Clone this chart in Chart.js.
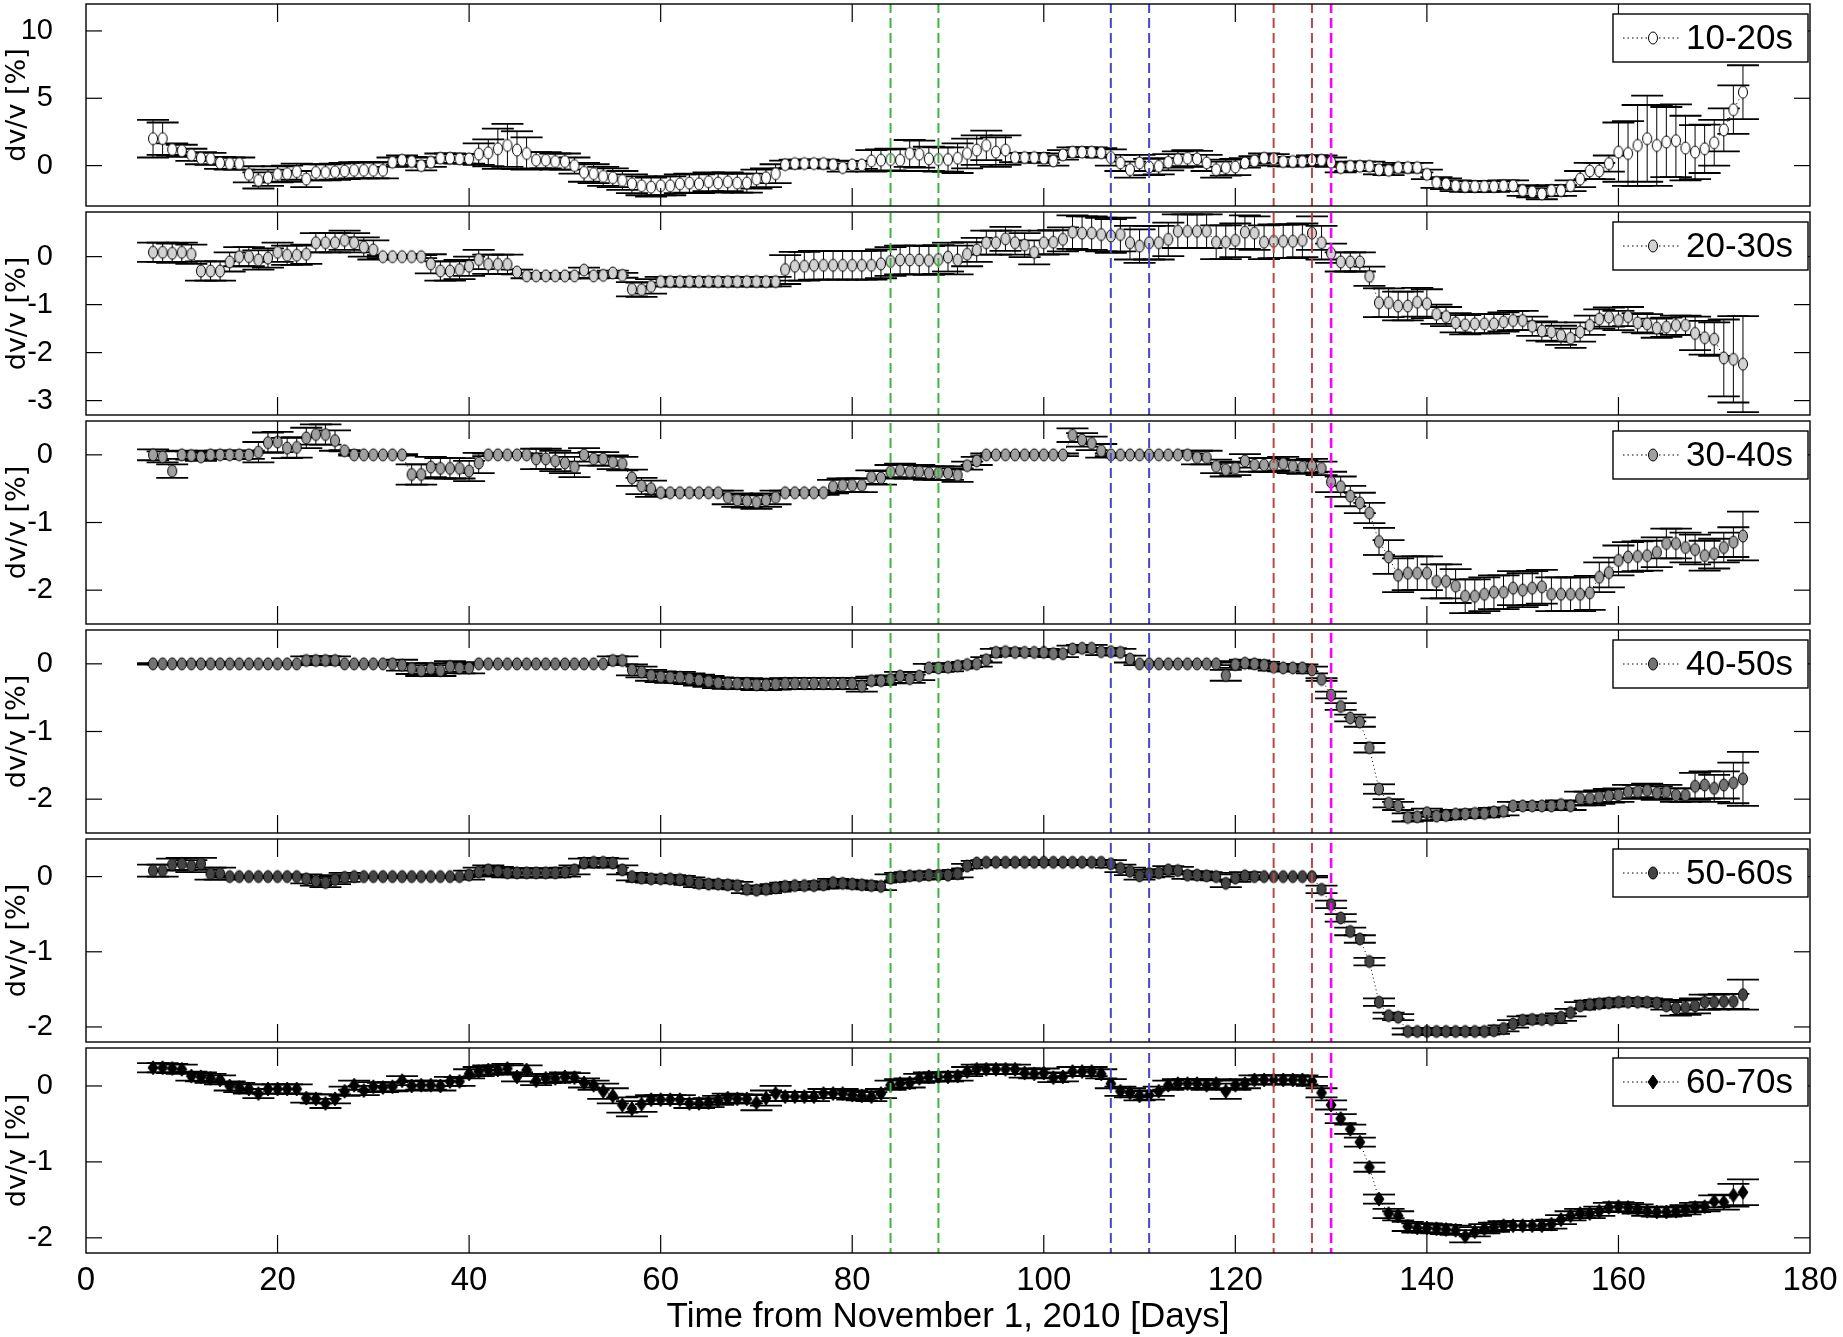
<!DOCTYPE html>
<html>
<head>
<meta charset="utf-8">
<script src="https://cdn.jsdelivr.net/npm/chart.js@4.4.1/dist/chart.umd.min.js"></script>
<style>
  html, body { margin: 0; padding: 0; background: #fff; }
  #wrap { position: relative; width: 1843px; height: 1337px; overflow: hidden; background: #fff; }
  #wrap canvas { position: absolute; left: 0; }
</style>
</head>
<body>
<div id="wrap"></div>
<script>
// ---- data ----
const days = [7,8,9,10,11,12,13,14,15,16,
  17,18,19,20,21,22,23,24,25,26,
  27,28,29,30,31,32,33,34,35,36,
  37,38,39,40,41,42,43,44,45,46,
  47,48,49,50,51,52,53,54,55,56,
  57,58,59,60,61,62,63,64,65,66,
  67,68,69,70,71,72,73,74,75,76,
  77,78,79,80,81,82,83,84,85,86,
  87,88,89,90,91,92,93,94,95,96,
  97,98,99,100,101,102,103,104,105,106,
  107,108,109,110,111,112,113,114,115,116,
  117,118,119,120,121,122,123,124,125,126,
  127,128,129,130,131,132,133,134,135,136,
  137,138,139,140,141,142,143,144,145,146,
  147,148,149,150,151,152,153,154,155,156,
  157,158,159,160,161,162,163,164,165,166,
  167,168,169,170,171,172,173];

const dv1020 = [2.0,2.0,1.2,1.1,0.8,0.55,0.5,0.2,0.15,0.15,
  -0.65,-1.1,-0.9,-0.65,-0.6,-0.45,-1.0,-0.5,-0.5,-0.45,
  -0.4,-0.35,-0.35,-0.35,-0.35,0.25,0.4,0.3,0.0,0.25,
  0.55,0.55,0.5,0.5,0.85,0.95,1.25,1.5,1.15,0.9,
  0.4,0.4,0.3,0.3,0.0,-0.5,-0.6,-0.8,-0.9,-1.1,
  -1.35,-1.5,-1.6,-1.5,-1.5,-1.35,-1.3,-1.35,-1.2,-1.3,
  -1.2,-1.3,-1.3,-1.0,-0.9,-0.6,0.07,0.15,0.15,0.15,
  0.15,0.07,-0.15,0.05,0.05,0.35,0.4,0.45,0.4,0.9,
  0.85,0.5,0.45,0.45,0.55,0.9,1.15,1.5,1.0,1.15,
  0.6,0.6,0.6,0.55,0.35,0.8,1.0,1.0,1.0,0.95,
  0.6,0.2,-0.3,0.2,-0.1,-0.05,0.25,0.45,0.55,0.5,
  0.2,-0.3,-0.15,-0.1,0.2,0.35,0.55,0.5,0.3,0.3,
  0.3,0.4,0.4,0.25,-0.15,-0.05,-0.05,-0.05,-0.3,-0.35,
  -0.15,-0.15,-0.15,-0.65,-1.25,-1.35,-1.5,-1.55,-1.55,-1.55,
  -1.55,-1.5,-1.5,-1.85,-1.95,-2.1,-1.85,-1.85,-1.5,-1.0,
  -0.4,-0.4,0.15,1.0,0.9,1.5,2.0,1.5,1.75,1.85,
  1.3,1.0,1.25,1.7,2.65,4.15,5.45];
const err1020 = [1.4,1.2,0.45,0.45,0.45,0.45,0.45,0.45,0.45,0.45,
  0.6,0.6,0.6,0.6,0.6,0.6,0.6,0.6,0.6,0.6,
  0.6,0.6,0.6,0.6,0.6,0.35,0.35,0.35,0.35,0.35,
  0.35,0.35,0.35,0.35,0.8,1.0,1.5,1.6,1.4,1.2,
  0.6,0.6,0.6,0.6,0.6,0.7,0.7,0.7,0.7,0.7,
  0.7,0.7,0.7,0.7,0.7,0.7,0.7,0.7,0.7,0.7,
  0.7,0.7,0.7,0.7,0.7,0.7,0.3,0.3,0.3,0.3,
  0.3,0.3,0.3,0.3,0.3,0.8,0.8,0.8,0.8,1.0,
  1.0,0.9,0.9,0.9,1.1,1.1,1.1,1.1,1.1,1.1,
  0.35,0.35,0.35,0.35,0.35,0.35,0.35,0.35,0.35,0.35,
  0.6,0.6,0.6,0.6,0.6,0.6,0.6,0.6,0.6,0.6,
  0.6,0.6,0.6,0.6,0.35,0.35,0.35,0.35,0.35,0.35,
  0.35,0.35,0.35,0.35,0.35,0.35,0.35,0.35,0.35,0.35,
  0.35,0.35,0.35,0.35,0.4,0.4,0.4,0.4,0.4,0.4,
  0.4,0.4,0.4,0.4,0.4,0.4,0.4,0.4,0.4,0.6,
  0.6,0.6,0.6,2.2,2.4,3.0,3.2,3.0,2.6,2.7,
  2.4,2.0,1.8,1.7,1.6,1.8,2.0];

const dv2030 = [0.09,0.09,0.07,0.09,0.05,-0.30,-0.30,-0.30,-0.11,0.0,
  0.0,-0.07,-0.03,0.09,0.03,0.03,0.05,0.29,0.29,0.29,
  0.34,0.29,0.2,0.14,0,0,0,0,0,-0.15,
  -0.30,-0.30,-0.27,-0.2,-0.06,-0.16,-0.16,-0.16,-0.32,-0.40,
  -0.40,-0.40,-0.40,-0.40,-0.40,-0.28,-0.40,-0.39,-0.34,-0.39,
  -0.68,-0.69,-0.62,-0.52,-0.52,-0.52,-0.52,-0.52,-0.52,-0.52,
  -0.52,-0.52,-0.52,-0.52,-0.52,-0.52,-0.27,-0.2,-0.2,-0.18,
  -0.18,-0.18,-0.18,-0.18,-0.18,-0.18,-0.15,-0.1,-0.07,-0.07,
  -0.07,-0.08,-0.06,-0.01,-0.07,0.05,0.14,0.29,0.29,0.37,
  0.29,0.24,0.09,0.29,0.30,0.36,0.51,0.49,0.49,0.46,
  0.43,0.46,0.29,0.22,0.29,0.29,0.36,0.53,0.53,0.53,
  0.53,0.30,0.30,0.34,0.51,0.49,0.30,0.32,0.32,0.32,
  0.34,0.49,0.29,0.07,-0.11,-0.11,-0.11,-0.41,-0.96,-0.96,
  -1.03,-1.03,-0.95,-0.98,-1.2,-1.25,-1.38,-1.42,-1.4,-1.4,
  -1.4,-1.36,-1.33,-1.33,-1.45,-1.55,-1.57,-1.64,-1.70,-1.57,
  -1.43,-1.30,-1.26,-1.33,-1.25,-1.38,-1.4,-1.49,-1.47,-1.43,
  -1.43,-1.6,-1.69,-1.72,-2.11,-2.14,-2.24];
const err2030 = [0.2,0.2,0.2,0.2,0.2,0.2,0.2,0.2,0.2,0.2,
  0.2,0.2,0.2,0.2,0.2,0.2,0.2,0.2,0.2,0.2,
  0.2,0.2,0.2,0.2,0.03,0.03,0.03,0.03,0.03,0.2,
  0.2,0.2,0.2,0.2,0.2,0.2,0.2,0.2,0.05,0.05,
  0.05,0.05,0.05,0.05,0.05,0.05,0.05,0.05,0.05,0.05,
  0.15,0.15,0.15,0.1,0.1,0.1,0.1,0.1,0.1,0.1,
  0.1,0.1,0.1,0.1,0.1,0.1,0.3,0.3,0.3,0.3,
  0.3,0.3,0.3,0.3,0.3,0.3,0.3,0.3,0.3,0.3,
  0.3,0.3,0.3,0.3,0.3,0.25,0.25,0.25,0.25,0.25,
  0.25,0.25,0.25,0.25,0.25,0.25,0.35,0.35,0.35,0.35,
  0.35,0.35,0.35,0.35,0.35,0.35,0.35,0.35,0.35,0.35,
  0.35,0.35,0.35,0.35,0.35,0.35,0.35,0.35,0.35,0.35,
  0.35,0.35,0.35,0.2,0.2,0.2,0.2,0.2,0.3,0.3,
  0.3,0.3,0.3,0.3,0.2,0.2,0.2,0.2,0.2,0.2,
  0.2,0.2,0.2,0.2,0.2,0.2,0.2,0.2,0.2,0.2,
  0.2,0.2,0.2,0.2,0.2,0.2,0.2,0.2,0.2,0.2,
  0.2,0.35,0.35,0.35,0.8,0.9,1.0];

const dv3040 = [0,-0.03,-0.24,0,-0.01,-0.03,0,0,0,0,
  0,0.04,0.18,0.19,0.1,0.11,0.25,0.3,0.3,0.21,
  0.06,0,0,0,0,0,0,-0.29,-0.29,-0.18,
  -0.2,-0.2,-0.2,-0.24,-0.12,0,0,0,0,0,
  -0.06,-0.06,-0.09,-0.12,-0.18,0,-0.06,-0.06,-0.11,-0.13,
  -0.34,-0.46,-0.5,-0.56,-0.56,-0.56,-0.56,-0.56,-0.56,-0.56,
  -0.63,-0.67,-0.68,-0.7,-0.67,-0.63,-0.56,-0.56,-0.56,-0.56,
  -0.56,-0.47,-0.45,-0.45,-0.45,-0.33,-0.34,-0.25,-0.23,-0.25,
  -0.25,-0.27,-0.27,-0.27,-0.3,-0.16,-0.09,0,0,0,
  0,0,0,0,0,0,0.29,0.22,0.17,0.06,
  0,0,0,0,0,0,0,0,0,-0.04,
  -0.04,-0.17,-0.22,-0.2,-0.09,-0.15,-0.15,-0.15,-0.13,-0.17,
  -0.18,-0.16,-0.2,-0.4,-0.47,-0.61,-0.71,-0.86,-1.28,-1.51,
  -1.78,-1.75,-1.75,-1.75,-1.87,-1.87,-1.94,-2.09,-2.09,-2.06,
  -2.03,-2.03,-1.97,-2.0,-1.97,-1.95,-2.06,-2.06,-2.06,-2.06,
  -2.04,-1.81,-1.74,-1.56,-1.51,-1.5,-1.49,-1.44,-1.31,-1.31,
  -1.37,-1.4,-1.49,-1.46,-1.37,-1.29,-1.2];
const err3040 = [0.08,0.08,0.1,0.06,0.06,0.06,0.06,0.06,0.06,0.06,
  0.06,0.15,0.15,0.15,0.15,0.15,0.15,0.15,0.15,0.15,
  0.01,0.01,0.01,0.01,0.01,0.01,0.01,0.15,0.15,0.15,
  0.15,0.15,0.15,0.15,0.15,0.02,0.02,0.02,0.02,0.02,
  0.15,0.15,0.15,0.15,0.15,0.1,0.1,0.1,0.1,0.1,
  0.12,0.12,0.12,0.03,0.03,0.03,0.03,0.03,0.03,0.03,
  0.1,0.1,0.1,0.1,0.1,0.1,0.03,0.03,0.03,0.03,
  0.03,0.1,0.1,0.1,0.1,0.1,0.1,0.1,0.1,0.1,
  0.1,0.1,0.1,0.1,0.1,0.06,0.06,0.02,0.02,0.02,
  0.02,0.02,0.02,0.02,0.02,0.02,0.1,0.1,0.1,0.1,
  0.02,0.02,0.02,0.02,0.02,0.02,0.02,0.02,0.02,0.1,
  0.1,0.1,0.1,0.1,0.1,0.1,0.1,0.1,0.1,0.1,
  0.1,0.1,0.1,0.15,0.15,0.15,0.15,0.15,0.2,0.25,
  0.25,0.25,0.25,0.25,0.25,0.25,0.25,0.25,0.25,0.25,
  0.25,0.25,0.25,0.25,0.25,0.25,0.25,0.25,0.25,0.25,
  0.25,0.22,0.22,0.22,0.22,0.22,0.22,0.22,0.22,0.22,
  0.22,0.22,0.22,0.22,0.22,0.22,0.36];

const dv4050 = [0,0,0,0,0,0,0,0,0,0,
  0,0,0,0,0,0,0.05,0.05,0.05,0.05,
  0,0,0,0,0,0,-0.02,-0.07,-0.1,-0.07,
  -0.1,-0.04,-0.06,-0.06,0,0,0,0,0,0,
  0,0,0,0,0,0,0,0,0.05,0.05,
  -0.09,-0.12,-0.17,-0.19,-0.2,-0.2,-0.22,-0.24,-0.26,-0.28,
  -0.29,-0.29,-0.29,-0.31,-0.31,-0.3,-0.29,-0.29,-0.29,-0.29,
  -0.29,-0.29,-0.29,-0.29,-0.33,-0.25,-0.25,-0.23,-0.18,-0.22,
  -0.18,-0.06,-0.06,-0.05,-0.03,-0.01,0,0.06,0.17,0.18,
  0.17,0.17,0.17,0.17,0.15,0.15,0.22,0.23,0.23,0.18,
  0.18,0.17,0.07,0,0,0,0,0,0,0,
  0,0,-0.17,-0.01,0.01,0,-0.02,-0.05,-0.06,-0.06,
  -0.06,-0.09,-0.23,-0.46,-0.63,-0.8,-0.86,-1.24,-1.85,-2.06,
  -2.1,-2.27,-2.26,-2.2,-2.25,-2.24,-2.22,-2.22,-2.21,-2.21,
  -2.19,-2.18,-2.1,-2.1,-2.1,-2.1,-2.1,-2.08,-2.1,-1.99,
  -1.99,-1.97,-1.95,-1.94,-1.89,-1.89,-1.87,-1.91,-1.89,-1.94,
  -1.94,-1.81,-1.79,-1.84,-1.79,-1.76,-1.7];
const err4050 = [0.01,0.01,0.01,0.01,0.02,0.02,0.02,0.02,0.01,0.01,
  0.01,0.01,0.01,0.01,0.01,0.01,0.06,0.06,0.06,0.06,
  0.01,0.01,0.01,0.01,0.01,0.01,0.08,0.08,0.08,0.08,
  0.08,0.08,0.08,0.08,0.01,0.01,0.01,0.01,0.01,0.01,
  0.01,0.01,0.01,0.01,0.01,0.01,0.01,0.01,0.06,0.06,
  0.08,0.08,0.08,0.08,0.08,0.08,0.08,0.08,0.08,0.08,
  0.08,0.08,0.08,0.08,0.08,0.08,0.08,0.08,0.08,0.08,
  0.08,0.08,0.08,0.08,0.08,0.06,0.06,0.06,0.06,0.06,
  0.06,0.06,0.06,0.06,0.04,0.04,0.04,0.04,0.05,0.05,
  0.05,0.05,0.05,0.05,0.05,0.05,0.05,0.05,0.05,0.05,
  0.05,0.05,0.05,0.02,0.02,0.02,0.02,0.02,0.02,0.02,
  0.02,0.02,0.08,0.05,0.05,0.05,0.05,0.05,0.05,0.05,
  0.05,0.05,0.02,0.05,0.05,0.05,0.07,0.07,0.07,0.06,
  0.06,0.06,0.06,0.06,0.06,0.06,0.06,0.06,0.06,0.06,
  0.06,0.06,0.06,0.06,0.06,0.06,0.06,0.06,0.06,0.1,
  0.1,0.1,0.1,0.1,0.1,0.1,0.1,0.1,0.1,0.1,
  0.1,0.2,0.2,0.2,0.2,0.3,0.4];

const dv5060 = [0.08,0.08,0.16,0.17,0.14,0.17,0.04,0.04,0,0,
  0,0,0,0,0,0,-0.03,-0.06,-0.08,-0.04,
  -0.01,0,0,0,0,0,0,0,0,0,
  0,0,0,0.02,0.06,0.09,0.07,0.05,0.05,0.05,
  0.05,0.05,0.05,0.06,0.09,0.18,0.19,0.19,0.18,0.09,
  0,-0.02,-0.03,-0.03,-0.03,-0.04,-0.06,-0.09,-0.1,-0.1,
  -0.11,-0.12,-0.17,-0.18,-0.17,-0.15,-0.13,-0.12,-0.12,-0.12,
  -0.11,-0.08,-0.09,-0.1,-0.11,-0.12,-0.13,-0.02,0,0.01,
  0.01,0.02,0.02,0.02,0.04,0.14,0.18,0.19,0.19,0.19,
  0.19,0.19,0.19,0.19,0.19,0.19,0.19,0.19,0.19,0.19,
  0.17,0.11,0.07,0.01,0.04,0.05,0.09,0.08,0.02,0.02,
  0.01,0,-0.09,-0.02,0.01,0,0,0,0,0,
  0,0,-0.17,-0.37,-0.55,-0.73,-0.83,-1.13,-1.67,-1.85,
  -1.87,-2.06,-2.06,-2.06,-2.06,-2.06,-2.06,-2.06,-2.06,-2.06,
  -2.05,-2.02,-1.96,-1.91,-1.9,-1.9,-1.9,-1.87,-1.81,-1.72,
  -1.7,-1.69,-1.68,-1.67,-1.67,-1.67,-1.67,-1.68,-1.72,-1.75,
  -1.74,-1.72,-1.67,-1.67,-1.66,-1.66,-1.57];
const err5060 = [0.08,0.08,0.08,0.08,0.08,0.08,0.08,0.08,0.01,0.01,
  0.01,0.01,0.01,0.01,0.01,0.01,0.06,0.06,0.06,0.06,
  0.06,0.01,0.01,0.01,0.01,0.01,0.01,0.01,0.01,0.01,
  0.01,0.01,0.01,0.06,0.06,0.06,0.06,0.06,0.06,0.06,
  0.06,0.06,0.06,0.06,0.06,0.06,0.06,0.06,0.06,0.06,
  0.05,0.05,0.05,0.05,0.05,0.05,0.05,0.05,0.05,0.05,
  0.05,0.05,0.05,0.05,0.05,0.05,0.05,0.05,0.05,0.05,
  0.05,0.05,0.05,0.05,0.05,0.05,0.05,0.05,0.05,0.05,
  0.05,0.05,0.05,0.05,0.05,0.03,0.03,0.03,0.03,0.03,
  0.03,0.03,0.03,0.03,0.03,0.03,0.03,0.03,0.03,0.03,
  0.05,0.05,0.05,0.05,0.05,0.05,0.05,0.05,0.05,0.05,
  0.05,0.05,0.05,0.05,0.05,0.01,0.01,0.01,0.01,0.01,
  0.01,0.01,0.05,0.05,0.05,0.05,0.05,0.05,0.05,0.04,
  0.04,0.04,0.04,0.04,0.04,0.04,0.04,0.04,0.04,0.04,
  0.04,0.04,0.05,0.05,0.05,0.05,0.05,0.05,0.05,0.05,
  0.05,0.05,0.05,0.05,0.05,0.05,0.05,0.05,0.05,0.1,
  0.1,0.1,0.1,0.1,0.1,0.1,0.2];

const dv6070 = [0.24,0.24,0.23,0.22,0.13,0.12,0.1,0.08,0,-0.02,
  -0.04,-0.1,-0.04,-0.04,-0.04,-0.04,-0.16,-0.17,-0.23,-0.17,
  -0.07,0.01,-0.06,-0.01,-0.02,-0.01,0.07,0,0.01,0.01,
  0,0.06,0.06,0.16,0.19,0.21,0.21,0.23,0.12,0.21,
  0.07,0.1,0.1,0.12,0.11,0.04,0.01,-0.07,-0.13,-0.25,
  -0.3,-0.24,-0.18,-0.18,-0.18,-0.18,-0.23,-0.23,-0.22,-0.19,
  -0.16,-0.17,-0.17,-0.22,-0.16,-0.1,-0.14,-0.14,-0.14,-0.14,
  -0.1,-0.1,-0.1,-0.12,-0.13,-0.14,-0.1,0.01,0.03,0.04,
  0.1,0.12,0.12,0.12,0.13,0.19,0.22,0.22,0.22,0.22,
  0.22,0.17,0.16,0.17,0.11,0.12,0.19,0.19,0.19,0.16,
  0.03,-0.07,-0.09,-0.13,-0.12,-0.07,0.01,0.03,0.03,0.03,
  0.01,0.03,-0.07,0.01,0.03,0.08,0.08,0.08,0.08,0.08,
  0.08,0.06,-0.09,-0.25,-0.43,-0.57,-0.74,-1.07,-1.49,-1.68,
  -1.71,-1.85,-1.87,-1.87,-1.88,-1.89,-1.9,-1.98,-1.92,-1.88,
  -1.86,-1.84,-1.84,-1.84,-1.84,-1.84,-1.82,-1.76,-1.71,-1.68,
  -1.68,-1.65,-1.6,-1.59,-1.6,-1.62,-1.65,-1.66,-1.66,-1.65,
  -1.63,-1.6,-1.59,-1.52,-1.53,-1.44,-1.4];
const err6070 = [0.06,0.06,0.06,0.06,0.06,0.06,0.06,0.06,0.06,0.06,
  0.06,0.06,0.06,0.06,0.06,0.06,0.06,0.06,0.06,0.06,
  0.06,0.06,0.06,0.06,0.06,0.06,0.06,0.06,0.06,0.06,
  0.06,0.06,0.06,0.06,0.06,0.06,0.06,0.06,0.06,0.06,
  0.06,0.06,0.06,0.06,0.06,0.06,0.06,0.1,0.1,0.1,
  0.1,0.1,0.06,0.06,0.06,0.06,0.06,0.06,0.06,0.06,
  0.06,0.06,0.06,0.1,0.1,0.1,0.06,0.06,0.06,0.06,
  0.06,0.06,0.06,0.06,0.06,0.06,0.06,0.06,0.06,0.06,
  0.06,0.06,0.06,0.06,0.06,0.06,0.06,0.06,0.06,0.06,
  0.06,0.06,0.06,0.06,0.06,0.06,0.06,0.06,0.06,0.06,
  0.06,0.06,0.06,0.06,0.06,0.06,0.06,0.06,0.06,0.06,
  0.06,0.06,0.1,0.06,0.06,0.06,0.06,0.06,0.06,0.06,
  0.06,0.06,0.06,0.06,0.06,0.06,0.06,0.06,0.06,0.06,
  0.06,0.06,0.06,0.06,0.06,0.06,0.06,0.08,0.06,0.06,
  0.06,0.06,0.06,0.06,0.06,0.06,0.06,0.06,0.06,0.06,
  0.06,0.06,0.06,0.06,0.06,0.06,0.06,0.06,0.06,0.06,
  0.06,0.06,0.06,0.08,0.1,0.15,0.17];

const xTicks = [0, 20, 40, 60, 80, 100, 120, 140, 160, 180];
const yTicks1020 = [0, 5, 10];
const yTicks2030 = [-3, -2, -1, 0];
const yTicks3040 = [-2, -1, 0];
const yTicks4050 = [-2, -1, 0];
const yTicks5060 = [-2, -1, 0];
const yTicks6070 = [-2, -1, 0];

// event days marked by the dashed lines
const eventDays = [84, 89, 107, 111, 124, 128, 130];
const eventColors = ['#3cb63c', '#3cb63c', '#4646c8', '#4646c8', '#be4646', '#be4646', '#ff00ff'];
const eventWidths = [2, 2, 2, 2, 2, 2, 2.6];

// ---- layout ----
const PAGE_W = 1843, PAGE_H = 1337;
const PLOT_LEFT = 86, PLOT_RIGHT = 1810;
const panelTops = [1, 209, 418, 627, 836, 1045, 1253];
const PAD = 4;
const FONT = '"Liberation Sans", Arial, sans-serif';
const LABEL_FONT = '"DejaVu Sans", "Liberation Sans", sans-serif';

const panels = [
  { name: '10-20s', values: dv1020, errors: err1020, yTicks: yTicks1020, min: -3, max: 12, fill: '#ffffff', shape: 'ellipse' },
  { name: '20-30s', values: dv2030, errors: err2030, yTicks: yTicks2030, min: -3.3, max: 0.93, fill: '#d2d2d2', shape: 'ellipse' },
  { name: '30-40s', values: dv3040, errors: err3040, yTicks: yTicks3040, min: -2.5, max: 0.5, fill: '#a0a0a0', shape: 'ellipse' },
  { name: '40-50s', values: dv4050, errors: err4050, yTicks: yTicks4050, min: -2.5, max: 0.5, fill: '#737373', shape: 'ellipse' },
  { name: '50-60s', values: dv5060, errors: err5060, yTicks: yTicks5060, min: -2.2, max: 0.5, fill: '#454545', shape: 'ellipse' },
  { name: '60-70s', values: dv6070, errors: err6070, yTicks: yTicks6070, min: -2.2, max: 0.5, fill: '#000000', shape: 'diamond' }
];

function makeMarker(shape, fill) {
  const c = document.createElement('canvas');
  c.width = 14; c.height = 18;
  const g = c.getContext('2d');
  g.fillStyle = fill;
  g.strokeStyle = '#000';
  g.lineWidth = 1;
  g.beginPath();
  if (shape === 'diamond') {
    g.moveTo(7, 2); g.lineTo(12, 9); g.lineTo(7, 16); g.lineTo(2, 9); g.closePath();
  } else {
    g.ellipse(7, 9, 4.5, 6, 0, 0, Math.PI * 2);
  }
  g.fill();
  g.stroke();
  return c;
}

function seg(ctx, x1, y1, x2, y2) {
  ctx.beginPath(); ctx.moveTo(x1, y1); ctx.lineTo(x2, y2); ctx.stroke();
}

const wrap = document.getElementById('wrap');

panels.forEach((p, i) => {
  const top = panelTops[i], bottom = panelTops[i + 1];
  const last = i === panels.length - 1;
  const cTop = top - PAD;
  const cH = last ? PAGE_H - cTop : (bottom - top) + 2 * PAD;
  const canvas = document.createElement('canvas');
  canvas.width = PAGE_W; canvas.height = cH;
  canvas.style.top = cTop + 'px';
  canvas.style.width = PAGE_W + 'px';
  canvas.style.height = cH + 'px';
  wrap.appendChild(canvas);
  const marker = makeMarker(p.shape, p.fill);

  const errorBars = {
    id: 'errorBars',
    beforeDatasetsDraw(chart) {
      const { ctx, chartArea: a } = chart;
      const xs = chart.scales.x, ys = chart.scales.y;
      ctx.save();
      ctx.beginPath(); ctx.rect(a.left, a.top, a.right - a.left, a.bottom - a.top); ctx.clip();
      ctx.strokeStyle = '#000';
      p.values.forEach((v, k) => {
        const x = xs.getPixelForValue(days[k]);
        const yt = ys.getPixelForValue(v + p.errors[k]);
        const yb = ys.getPixelForValue(v - p.errors[k]);
        ctx.lineWidth = 1;
        seg(ctx, x, yt, x, yb);
        ctx.lineWidth = 1.8;
        seg(ctx, x - 16, yt, x + 16, yt);
        seg(ctx, x - 16, yb, x + 16, yb);
      });
      ctx.restore();
    }
  };

  const eventLines = {
    id: 'eventLines',
    afterDatasetsDraw(chart) {
      const { ctx, chartArea: a } = chart;
      const xs = chart.scales.x;
      ctx.save();
      ctx.setLineDash([10, 5]);
      ctx.lineDashOffset = top;
      eventDays.forEach((d, k) => {
        const x = xs.getPixelForValue(d);
        ctx.strokeStyle = eventColors[k];
        ctx.lineWidth = eventWidths[k];
        seg(ctx, x, a.top, x, a.bottom);
      });
      ctx.restore();
    }
  };

  const frame = {
    id: 'frame',
    afterDraw(chart) {
      const { ctx, chartArea: a } = chart;
      const xs = chart.scales.x, ys = chart.scales.y;
      ctx.save();
      ctx.strokeStyle = '#000';
      ctx.lineWidth = 1.2;
      xTicks.forEach(v => {
        if (v <= 0 || v >= 180) return;
        const x = xs.getPixelForValue(v);
        seg(ctx, x, a.top, x, a.top + 18);
        seg(ctx, x, a.bottom, x, a.bottom - 18);
      });
      p.yTicks.forEach(v => {
        const y = ys.getPixelForValue(v);
        seg(ctx, a.left, y, a.left + 16, y);
        seg(ctx, a.right, y, a.right - 16, y);
      });
      ctx.lineWidth = 1.4;
      ctx.strokeRect(a.left, a.top, a.right - a.left, a.bottom - a.top);

      // legend box
      const bx = a.right - 197, by = a.top + 10, bw = 195, bh = 48;
      ctx.fillStyle = '#fff';
      ctx.fillRect(bx, by, bw, bh);
      ctx.lineWidth = 1.4;
      ctx.strokeRect(bx, by, bw, bh);
      const my = by + bh / 2;
      ctx.lineWidth = 1;
      ctx.setLineDash([1.5, 3]);
      seg(ctx, bx + 10, my, bx + 66, my);
      ctx.setLineDash([]);
      ctx.drawImage(marker, bx + 40 - 7, my - 9);
      ctx.fillStyle = '#000';
      ctx.font = '35px ' + FONT;
      ctx.textAlign = 'left';
      ctx.textBaseline = 'middle';
      ctx.fillText(p.name, bx + 73, my + 1);
      ctx.restore();
    }
  };

  new Chart(canvas, {
    type: 'line',
    data: {
      datasets: [{
        label: p.name,
        data: days.map((d, k) => ({ x: d, y: p.values[k] })),
        borderColor: '#000',
        borderWidth: 1,
        borderDash: [1, 3],
        pointStyle: marker,
        pointRadius: 6,
        pointHoverRadius: 6,
        tension: 0,
        fill: false
      }]
    },
    options: {
      responsive: false,
      maintainAspectRatio: false,
      animation: false,
      devicePixelRatio: 1,
      events: [],
      layout: { padding: { top: PAD, bottom: last ? 0 : PAD, left: 0, right: PAGE_W - PLOT_RIGHT } },
      plugins: { legend: { display: false }, tooltip: { enabled: false } },
      scales: {
        x: {
          type: 'linear', min: 0, max: 180, display: last,
          grid: { display: false, drawTicks: false },
          border: { display: false },
          afterBuildTicks: s => { s.ticks = xTicks.map(v => ({ value: v })); },
          ticks: { color: '#000', font: { family: FONT, size: 33 }, padding: 8, maxRotation: 0, autoSkip: false },
          title: {
            display: true, text: 'Time from November 1, 2010 [Days]', color: '#000',
            font: { family: FONT, size: 35, lineHeight: 1 }, padding: { top: 0, bottom: 2 }
          },
          afterFit: s => {
            if (last) s.height = PAGE_H - panelTops[6];
            s.paddingLeft = 0; s.paddingRight = 0;
          }
        },
        y: {
          type: 'linear', min: p.min, max: p.max,
          grid: { display: false, drawTicks: false },
          border: { display: false },
          afterBuildTicks: s => { s.ticks = p.yTicks.map(v => ({ value: v })); },
          ticks: { color: '#000', font: { family: FONT, size: 29 }, padding: 33 },
          title: {
            display: true, text: 'dv/v [%]', color: '#000',
            font: { family: LABEL_FONT, size: 27, lineHeight: 1 }, padding: { top: 4, bottom: 0 }
          },
          afterFit: s => { s.width = PLOT_LEFT; s.paddingTop = 0; s.paddingBottom = 0; }
        }
      }
    },
    plugins: [errorBars, eventLines, frame]
  });
});
</script>
</body>
</html>
